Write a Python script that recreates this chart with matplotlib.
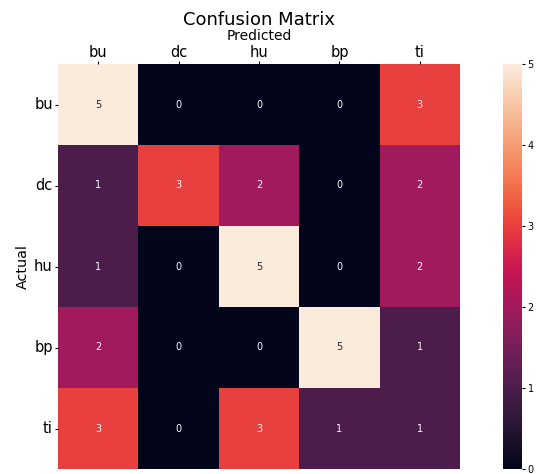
import matplotlib
matplotlib.use("Agg")
import matplotlib.pyplot as plt
import seaborn as sns
import numpy as np

labels = ["bu", "dc", "hu", "bp", "ti"]
row_bu = [5, 0, 0, 0, 3]
row_dc = [1, 3, 2, 0, 2]
row_hu = [1, 0, 5, 0, 2]
row_bp = [2, 0, 0, 5, 1]
row_ti = [3, 0, 3, 1, 1]

cm = np.array([row_bu, row_dc, row_hu, row_bp, row_ti])

fig = plt.figure(figsize=(5.41, 4.74), dpi=100)
ax = fig.add_axes([58/541, 5/474, 402/541, 405/474])
cax = fig.add_axes([503/541, 5/474, 19/541, 405/474])

sns.heatmap(cm, annot=True, fmt="d", cmap="rocket", vmin=0, vmax=5,
            ax=ax, cbar_ax=cax, annot_kws={"fontsize": 7},
            xticklabels=labels, yticklabels=labels)
ax.xaxis.set_ticks_position("top")
ax.xaxis.set_label_position("top")
ax.tick_params(axis="x", labelsize=10.5, rotation=0, length=2.2, pad=1)
ax.tick_params(axis="y", labelsize=10.5, rotation=0, length=2.2, pad=1.5)
ax.set_xlabel("Predicted", fontsize=10, labelpad=3.5)
ax.set_ylabel("Actual", fontsize=10.3, labelpad=3)
ax.set_title("Confusion Matrix", fontsize=13, pad=2.5)
cax.tick_params(labelsize=7, length=2.5, pad=1.5)
cax.set_yticks([0, 1, 2, 3, 4, 5])

fig.savefig("out.png", dpi=100)
